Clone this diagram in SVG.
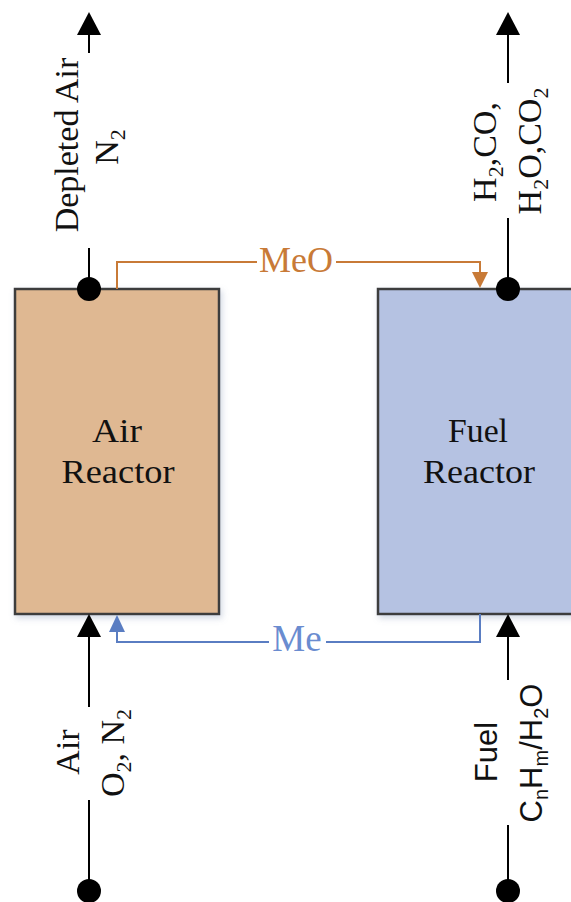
<svg xmlns="http://www.w3.org/2000/svg" width="571" height="902" viewBox="0 0 571 902">
<defs>
<style>
.box{stroke:#3c3c3c;stroke-width:2.5}
.serif{font-family:"Liberation Serif","Times New Roman",serif;fill:#111}
.sans{font-family:"Liberation Sans",Arial,sans-serif;fill:#111}
.blk{stroke:#000;stroke-width:2;fill:none}
.org{stroke:#C87A37;stroke-width:2;fill:none}
.blu{stroke:#5A7DC2;stroke-width:2;fill:none}
</style>
<filter id="sh" x="-10%" y="-10%" width="130%" height="130%">
<feDropShadow dx="2" dy="3" stdDeviation="3" flood-color="#8090b0" flood-opacity="0.35"/>
</filter>
</defs>
<rect width="571" height="902" fill="#fff"/>

<g id="air-reactor">
<rect class="box" x="15" y="289" width="204" height="325" fill="#DFB892" filter="url(#sh)"/>
<text class="serif" x="117" y="442" font-size="34" text-anchor="middle" textLength="50" lengthAdjust="spacingAndGlyphs">Air</text>
<text class="serif" x="118" y="483" font-size="34" text-anchor="middle" textLength="113" lengthAdjust="spacingAndGlyphs">Reactor</text>
</g>

<g id="fuel-reactor">
<rect class="box" x="378" y="289" width="204" height="325" fill="#B5C2E2" filter="url(#sh)"/>
<text class="serif" x="478" y="442" font-size="34" text-anchor="middle" textLength="60" lengthAdjust="spacingAndGlyphs">Fuel</text>
<text class="serif" x="479" y="483" font-size="34" text-anchor="middle" textLength="112" lengthAdjust="spacingAndGlyphs">Reactor</text>
</g>

<g id="connectors">
<line class="blk" x1="89" y1="289" x2="89" y2="248"/>
<line class="blk" x1="89" y1="53" x2="89" y2="33"/>
<polygon points="89,12 77,35 101,35" fill="#000"/>
<circle cx="89" cy="289" r="12" fill="#000"/>
<line class="blk" x1="508" y1="289" x2="508" y2="218"/>
<line class="blk" x1="508" y1="83" x2="508" y2="33"/>
<polygon points="508,12 496,35 520,35" fill="#000"/>
<circle cx="508" cy="289" r="12" fill="#000"/>
<line class="blk" x1="89" y1="891" x2="89" y2="800"/>
<line class="blk" x1="89" y1="707" x2="89" y2="635"/>
<polygon points="89,614 77,637 101,637" fill="#000"/>
<circle cx="89" cy="891" r="12" fill="#000"/>
<line class="blk" x1="508" y1="891" x2="508" y2="825"/>
<line class="blk" x1="508" y1="680" x2="508" y2="635"/>
<polygon points="508,614 496,637 520,637" fill="#000"/>
<circle cx="508" cy="891" r="12" fill="#000"/>
<polyline class="org" points="117,289 117,262 257,262"/>
<polyline class="org" points="336,262 480,262 480,274"/>
<polygon points="480,288 472,272 488,272" fill="#C87A37"/>
<polyline class="blu" points="480,614 480,642 326,642"/>
<polyline class="blu" points="269,642 117,642 117,630"/>
<polygon points="117,615 109,632 125,632" fill="#5A7DC2"/>
</g>

<g id="labels">
<text class="serif" x="296" y="272" font-size="36" text-anchor="middle" style="fill:#C87A37">MeO</text>
<text class="serif" x="297" y="651" font-size="37" text-anchor="middle" style="fill:#6A8CD0">Me</text>

<text class="serif" font-size="34" text-anchor="middle" transform="translate(78,145) rotate(-90)">Depleted Air</text>
<text class="serif" font-size="34" text-anchor="middle" transform="translate(118,147) rotate(-90)">N<tspan font-size="22" dy="7">2</tspan></text>

<text class="serif" font-size="34" text-anchor="middle" transform="translate(496,152) rotate(-90)">H<tspan font-size="22" dy="7">2</tspan><tspan dy="-7">,CO,</tspan></text>
<text class="serif" font-size="34" text-anchor="middle" transform="translate(541,151) rotate(-90)">H<tspan font-size="22" dy="7">2</tspan><tspan dy="-7">O,CO</tspan><tspan font-size="22" dy="7">2</tspan></text>

<text class="serif" font-size="34" text-anchor="middle" transform="translate(79,752) rotate(-90)">Air</text>
<text class="serif" font-size="34" text-anchor="middle" transform="translate(124,753) rotate(-90)">O<tspan font-size="22" dy="7">2</tspan><tspan dy="-7">, N</tspan><tspan font-size="22" dy="7">2</tspan></text>

<text class="sans" font-size="31" text-anchor="middle" transform="translate(497,752) rotate(-90)">Fuel</text>
<text class="sans" font-size="31" text-anchor="middle" transform="translate(542,753) rotate(-90)">C<tspan font-size="20" dy="6">n</tspan><tspan dy="-6">H</tspan><tspan font-size="20" dy="6">m</tspan><tspan dy="-6">/H</tspan><tspan font-size="20" dy="6">2</tspan><tspan dy="-6">O</tspan></text>
</g>
</svg>
